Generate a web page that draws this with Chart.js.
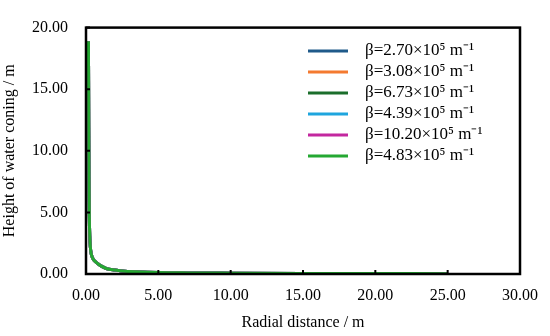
<!DOCTYPE html>
<html lang="en">
<head>
  <meta charset="UTF-8">
  <title>Height of water coning</title>
  <script src="https://cdn.jsdelivr.net/npm/chart.js"></script>
  <style>
    body, html {
      margin: 0;
      background: #fff;
    }
    .chart-box {
      width: 550px;
      height: 336px;
    }
  </style>
</head>
<body>
  <div class="chart-box">
    <canvas id="coningChart" width="550" height="336"></canvas>
  </div>

  <script>
    // radial distance (m) and coning height (m)
    const radius = [0.17, 0.19, 0.21, 0.23, 0.26, 0.3, 0.35, 0.42, 0.5, 0.6, 0.8, 1.0, 1.4, 2.0, 2.5, 3.5, 5, 7, 10, 15, 20, 25];
    const heightBeta270 = [18.9, 12.0, 7.5, 4.7, 3.1, 2.2, 1.7, 1.4, 1.2, 1.05, 0.85, 0.68, 0.45, 0.32, 0.25, 0.18, 0.12, 0.09, 0.07, 0.05, 0.04, 0.03];
    const heightBeta308 = [18.9, 12.0, 7.5, 4.7, 3.1, 2.2, 1.7, 1.4, 1.2, 1.05, 0.85, 0.68, 0.45, 0.32, 0.25, 0.18, 0.12, 0.09, 0.07, 0.05, 0.04, 0.03];
    const heightBeta673 = [18.9, 12.0, 7.5, 4.7, 3.1, 2.2, 1.7, 1.4, 1.2, 1.05, 0.85, 0.68, 0.45, 0.32, 0.25, 0.18, 0.12, 0.09, 0.07, 0.05, 0.04, 0.03];
    const heightBeta439 = [18.9, 12.0, 7.5, 4.7, 3.1, 2.2, 1.7, 1.4, 1.2, 1.05, 0.85, 0.68, 0.45, 0.32, 0.25, 0.18, 0.12, 0.09, 0.07, 0.05, 0.04, 0.03];
    const heightBeta1020 = [18.9, 12.0, 7.5, 4.7, 3.1, 2.2, 1.7, 1.4, 1.2, 1.05, 0.85, 0.68, 0.45, 0.32, 0.25, 0.18, 0.12, 0.09, 0.07, 0.05, 0.04, 0.03];
    const heightBeta483 = [18.9, 12.0, 7.5, 4.7, 3.1, 2.2, 1.7, 1.4, 1.2, 1.05, 0.85, 0.68, 0.45, 0.32, 0.25, 0.18, 0.12, 0.09, 0.07, 0.05, 0.04, 0.03];

    const seriesLabels = [
      'β=2.70×10⁵ m⁻¹',
      'β=3.08×10⁵ m⁻¹',
      'β=6.73×10⁵ m⁻¹',
      'β=4.39×10⁵ m⁻¹',
      'β=10.20×10⁵ m⁻¹',
      'β=4.83×10⁵ m⁻¹'
    ];
    const seriesHeights = [heightBeta270, heightBeta308, heightBeta673, heightBeta439, heightBeta1020, heightBeta483];
    const seriesColors = ['#1f5a8a', '#f47a30', '#1b6e2b', '#1ea5de', '#c3279f', '#25a832'];

    const xTicks = [0, 5, 10, 15, 20, 25, 30];
    const yTicks = [0, 5, 10, 15, 20];

    const serif = "'Liberation Serif', 'Times New Roman', serif";

    // frame, inward tick marks and the legend inside the plot
    const framePlugin = {
      id: 'frame',
      afterDraw(chart) {
        const { ctx, chartArea: a, scales } = chart;
        ctx.save();
        ctx.strokeStyle = '#000';
        ctx.lineWidth = 2.5;
        ctx.strokeRect(a.left, a.top, a.right - a.left, a.bottom - a.top);

        ctx.lineWidth = 2;
        ctx.beginPath();
        xTicks.forEach(v => {
          const px = scales.x.getPixelForValue(v);
          ctx.moveTo(px, a.bottom);
          ctx.lineTo(px, a.bottom - 4);
        });
        yTicks.forEach(v => {
          const py = scales.y.getPixelForValue(v);
          ctx.moveTo(a.left, py);
          ctx.lineTo(a.left + 4, py);
        });
        ctx.stroke();

        // legend
        ctx.font = '17px ' + serif;
        ctx.textBaseline = 'middle';
        ctx.fillStyle = '#000';
        ctx.lineWidth = 3;
        seriesLabels.forEach((label, i) => {
          const y = 51 + i * 21;
          ctx.strokeStyle = seriesColors[i];
          ctx.beginPath();
          ctx.moveTo(308, y);
          ctx.lineTo(348, y);
          ctx.stroke();
          ctx.fillText(label, 365, y);
        });
        ctx.restore();
      }
    };

    const ctx = document.getElementById('coningChart').getContext('2d');
    new Chart(ctx, {
      type: 'scatter',
      data: {
        datasets: seriesLabels.map((label, i) => ({
          label: label,
          data: radius.map((r, k) => ({ x: r, y: seriesHeights[i][k] })),
          order: seriesLabels.length - i,
          showLine: true,
          borderColor: seriesColors[i],
          backgroundColor: seriesColors[i],
          borderWidth: 3,
          pointRadius: 0,
          cubicInterpolationMode: 'monotone'
        }))
      },
      options: {
        responsive: false,
        animation: false,
        layout: { padding: { top: 13, right: 25, left: 0, bottom: 0 } },
        plugins: {
          legend: { display: false },
          tooltip: { enabled: false }
        },
        scales: {
          x: {
            type: 'linear',
            min: 0,
            max: 30,
            afterBuildTicks: s => { s.ticks = xTicks.map(v => ({ value: v })); },
            afterFit: s => { s.height = 62; },
            grid: { display: false, drawTicks: false },
            border: { display: false },
            ticks: {
              padding: 12,
              color: '#000',
              font: { family: serif, size: 16 },
              callback: v => v.toFixed(2)
            },
            title: {
              display: true,
              text: 'Radial distance / m',
              color: '#000',
              font: { family: serif, size: 16 },
              padding: { top: 0, bottom: 4 }
            }
          },
          y: {
            type: 'linear',
            min: 0,
            max: 20,
            afterBuildTicks: s => { s.ticks = yTicks.map(v => ({ value: v })); },
            afterFit: s => { s.width = 86; },
            grid: { display: false, drawTicks: false },
            border: { display: false },
            ticks: {
              padding: 18,
              color: '#000',
              font: { family: serif, size: 16 },
              callback: v => v.toFixed(2)
            },
            title: {
              display: true,
              text: 'Height of water coning / m',
              color: '#000',
              font: { family: serif, size: 16 },
              padding: { top: 0, bottom: 12 }
            }
          }
        }
      },
      plugins: [framePlugin]
    });
  </script>
</body>
</html>
